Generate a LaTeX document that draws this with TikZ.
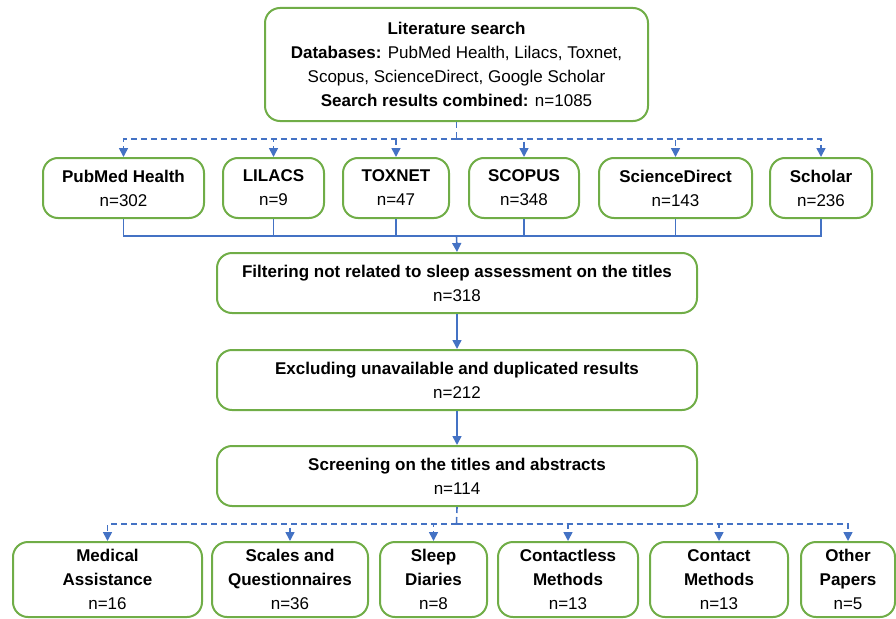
\documentclass[tikz,border=0pt]{standalone}
\usepackage{fontspec}
\setmainfont{Liberation Sans}
\usepackage{tikz}
\usetikzlibrary{shapes,arrows,arrows.meta}
\definecolor{boxgreen}{RGB}{112,173,71}
\definecolor{linkblue}{RGB}{68,114,196}
\tikzstyle{block} = [rectangle, draw=boxgreen, line width=2pt, align=center,
    rounded corners=15pt, inner sep=0pt, font=\fontsize{17}{24}\selectfont]
\tikzstyle{line} = [draw=linkblue, line width=1.6pt, -{Triangle[length=9pt,width=9pt]}]
\tikzstyle{dline} = [line, dash pattern=on 6pt off 4pt]

\begin{document}
\begin{tikzpicture}[x=1pt, y=-1pt]
\useasboundingbox (0,0) rectangle (896,618);
\node [block, minimum width=383, minimum height=113] at (456.5,64.5) (search) {\textbf{Literature search}\\\textbf{Databases:} PubMed Health, Lilacs, Toxnet,\\Scopus, ScienceDirect, Google Scholar\\\textbf{Search results combined:} n=1085};

\node [block, minimum width=161, minimum height=60] at (123.5,188) (pubmed) {\textbf{PubMed Health}\\n=302};
\node [block, minimum width=101, minimum height=60] at (273.5,188) (lilacs) {\textbf{LILACS}\\n=9};
\node [block, minimum width=106, minimum height=60] at (396,188) (toxnet) {\textbf{TOXNET}\\n=47};
\node [block, minimum width=110, minimum height=60] at (524,188) (scopus) {\textbf{SCOPUS}\\n=348};
\node [block, minimum width=153, minimum height=60] at (675.5,188) (scidirect) {\textbf{ScienceDirect}\\n=143};
\node [block, minimum width=102, minimum height=60] at (821,188) (scholar) {\textbf{Scholar}\\n=236};

\node [block, minimum width=480, minimum height=60] at (457,283) (filter) {\textbf{Filtering not related to sleep assessment on the titles}\\n=318};
\node [block, minimum width=480, minimum height=60] at (457,380) (exclude) {\textbf{Excluding unavailable and duplicated results}\\n=212};
\node [block, minimum width=480, minimum height=60] at (457,476) (screen) {\textbf{Screening on the titles and abstracts}\\n=114};

\node [block, minimum width=189, minimum height=75] at (107.5,579.5) (medical) {\textbf{Medical}\\\textbf{Assistance}\\n=16};
\node [block, minimum width=156, minimum height=75] at (290,579.5) (scales) {\textbf{Scales and}\\\textbf{Questionnaires}\\n=36};
\node [block, minimum width=107, minimum height=75] at (433.5,579.5) (diaries) {\textbf{Sleep}\\\textbf{Diaries}\\n=8};
\node [block, minimum width=140, minimum height=75] at (568,579.5) (contactless) {\textbf{Contactless}\\\textbf{Methods}\\n=13};
\node [block, minimum width=138, minimum height=75] at (719,579.5) (contact) {\textbf{Contact}\\\textbf{Methods}\\n=13};
\node [block, minimum width=94, minimum height=75] at (848,579.5) (other) {\textbf{Other}\\\textbf{Papers}\\n=5};

\coordinate (split1) at (456.5,139);
\coordinate (merge1) at (456.5,236);
\coordinate (split2) at (456.5,524);

\draw [dline, -] (search.south) -- (split1);
\foreach \db in {pubmed,lilacs,toxnet,scopus,scidirect,scholar}
    \draw [dline] (split1) -| (\db.north);
\foreach \db in {pubmed,lilacs,toxnet,scopus,scidirect,scholar}
    \draw [line, -] (\db.south) |- (merge1);
\draw [line] (merge1) -- (filter.north);

\draw [line] (filter) -- (exclude);
\draw [line] (exclude) -- (screen);

\draw [dline, -] (screen.south) -- (split2);
\foreach \cat in {medical,scales,diaries,contactless,contact,other}
    \draw [dline] (split2) -| (\cat.north);
\end{tikzpicture}
\end{document}
